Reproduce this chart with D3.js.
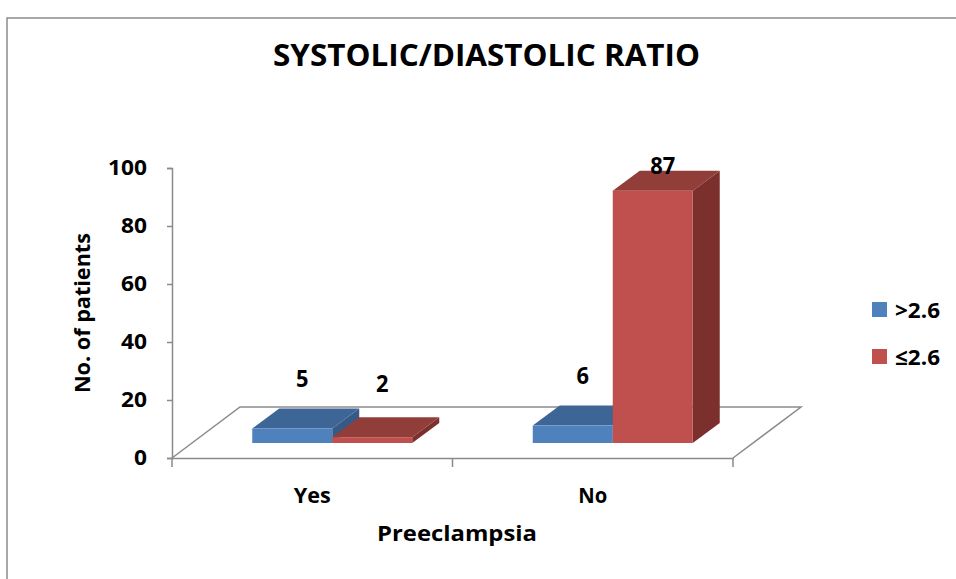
<!DOCTYPE html>
<html>
<head>
<meta charset="utf-8">
<script src="https://cdn.jsdelivr.net/npm/d3@7"></script>
<style>
  body { margin: 0; background: #fff; }
  svg { display: block; font-family: "Open Sans", sans-serif; font-weight: bold; }
</style>
</head>
<body>
<svg id="chart" width="956" height="579"></svg>
<script>
// data
const categories = ["Yes", "No"];
const seriesNames = [">2.6", "\u22642.6"];
const above = [5, 6];      // >2.6
const below = [2, 87];     // <=2.6
const yTicks = [0, 20, 40, 60, 80, 100];

const frontColors = ["#4F81BD", "#C0504D"];
const topColors = ["#3D6595", "#913D3A"];
const sideColors = ["#365A86", "#7C302E"];

const svg = d3.select("#chart");
const FONT = "'Open Sans', sans-serif";

// the source picture is stretched sideways, so text gets a fixed width
const fit = (sel, w) => sel.attr("textLength", w).attr("lengthAdjust", "spacingAndGlyphs");

// chart frame (top/left edges visible only)
svg.append("path")
    .attr("d", "M7,579 L7,18 L956,18")
    .attr("fill", "none")
    .attr("stroke", "#8c8c8c")
    .attr("stroke-width", 1.5);

// front plane of the floor
const x = d3.scaleBand().domain(categories).range([172, 733]);
const y = d3.scaleLinear().domain([0, 100]).range([458, 168]);

// floor depth and bar placement inside it
const floorDx = 68, floorDy = -51;
const barOffX = 20, barOffY = -15;   // front face of bars
const barDx = 27, barDy = -20;        // bar depth
const barW = 80;

const x1 = d3.scaleBand().domain(seriesNames)
    .range([(x.bandwidth() - 2 * barW) / 2, (x.bandwidth() + 2 * barW) / 2]);

// floor
const fy = y(0);
svg.append("path")
    .attr("d", `M${x.range()[0]},${fy} L${x.range()[0] + floorDx},${fy + floorDy} L${x.range()[1] + floorDx},${fy + floorDy} L${x.range()[1]},${fy}`)
    .attr("fill", "none")
    .attr("stroke", "#8a8a8a")
    .attr("stroke-width", 1.5);

// y axis
const yAxis = d3.axisLeft(y).tickValues(yTicks).tickSize(5).tickPadding(20);
const gy = svg.append("g").attr("transform", "translate(172,0)").call(yAxis);
gy.select(".domain").attr("stroke", "#8a8a8a").attr("stroke-width", 1.5);
gy.selectAll(".tick line").attr("stroke", "#8a8a8a").attr("stroke-width", 1.5);
gy.selectAll(".tick text")
    .attr("font-size", 21).attr("font-family", FONT).attr("font-weight", "bold")
    .attr("fill", "#000")
    .each(function (d) { fit(d3.select(this), String(d).length * 13); });

// x axis
const catWidths = { Yes: 37, No: 29 };
const xAxis = d3.axisBottom(x).tickSize(0).tickPadding(0);
const gx = svg.append("g").attr("transform", `translate(0,${fy})`).call(xAxis);
gx.select(".domain").attr("stroke", "#8a8a8a").attr("stroke-width", 1.5);
gx.selectAll(".tick text")
    .attr("font-size", 22).attr("font-family", FONT).attr("font-weight", "bold")
    .attr("fill", "#000").attr("dy", 0).attr("y", 45)
    .each(function (d) { fit(d3.select(this), catWidths[d]); });
// category boundary ticks
const bounds = categories.map(c => x(c)).concat([x.range()[1]]);
gx.selectAll(".bound").data(bounds).join("line")
    .attr("class", "bound")
    .attr("x1", d => d).attr("x2", d => d)
    .attr("y1", 0).attr("y2", 9)
    .attr("stroke", "#8a8a8a").attr("stroke-width", 1.5);

// bars
const rows = [];
categories.forEach((c, i) => {
    rows.push({ cat: c, s: 0, v: above[i] });
    rows.push({ cat: c, s: 1, v: below[i] });
});

const barG = svg.append("g");
rows.forEach(d => {
    const x0 = x(d.cat) + x1(seriesNames[d.s]) + barOffX;
    const x2 = x0 + barW;
    const yb = y(0) + barOffY;
    const yt = y(d.v) + barOffY;
    const g = barG.append("g");
    // side
    g.append("path")
        .attr("d", `M${x2},${yb} L${x2 + barDx},${yb + barDy} L${x2 + barDx},${yt + barDy} L${x2},${yt} Z`)
        .attr("fill", sideColors[d.s]);
    // top
    g.append("path")
        .attr("d", `M${x0},${yt} L${x0 + barDx},${yt + barDy} L${x2 + barDx},${yt + barDy} L${x2},${yt} Z`)
        .attr("fill", topColors[d.s]);
    // front
    g.append("rect")
        .attr("x", x0).attr("y", yt)
        .attr("width", barW).attr("height", yb - yt)
        .attr("fill", frontColors[d.s]);
});

// value labels
const labelY = d3.scaleLinear().domain([6, 87]).range([384, 174]);
svg.append("g").selectAll("text").data(rows).join("text")
    .attr("x", d => x(d.cat) + x1(seriesNames[d.s]) + barOffX + barW / 2 + 10)
    .attr("y", d => Math.min(labelY(d.v), 392))
    .attr("text-anchor", "middle")
    .attr("font-size", 24)
    .attr("textLength", d => String(d.v).length * 12.5)
    .attr("lengthAdjust", "spacingAndGlyphs")
    .text(d => d.v);

// title
fit(svg.append("text")
    .attr("x", 486.5).attr("y", 66)
    .attr("text-anchor", "middle")
    .attr("font-size", 30)
    .text("SYSTOLIC/DIASTOLIC RATIO"), 427);

// axis titles
fit(svg.append("text")
    .attr("transform", "translate(90,313) rotate(-90)")
    .attr("text-anchor", "middle")
    .attr("font-size", 22)
    .text("No. of patients"), 160);

fit(svg.append("text")
    .attr("x", 457).attr("y", 541)
    .attr("text-anchor", "middle")
    .attr("font-size", 22)
    .text("Preeclampsia"), 160);

// legend
const legend = svg.append("g").attr("transform", "translate(872,302)");
const li = legend.selectAll("g").data(seriesNames).join("g")
    .attr("transform", (d, i) => `translate(0,${i * 47})`);
li.append("rect").attr("width", 15).attr("height", 15)
    .attr("fill", (d, i) => frontColors[i]);
li.append("text").attr("x", 23).attr("y", 16)
    .attr("font-size", 22)
    .attr("textLength", 45).attr("lengthAdjust", "spacingAndGlyphs")
    .text(d => d);
</script>
</body>
</html>
